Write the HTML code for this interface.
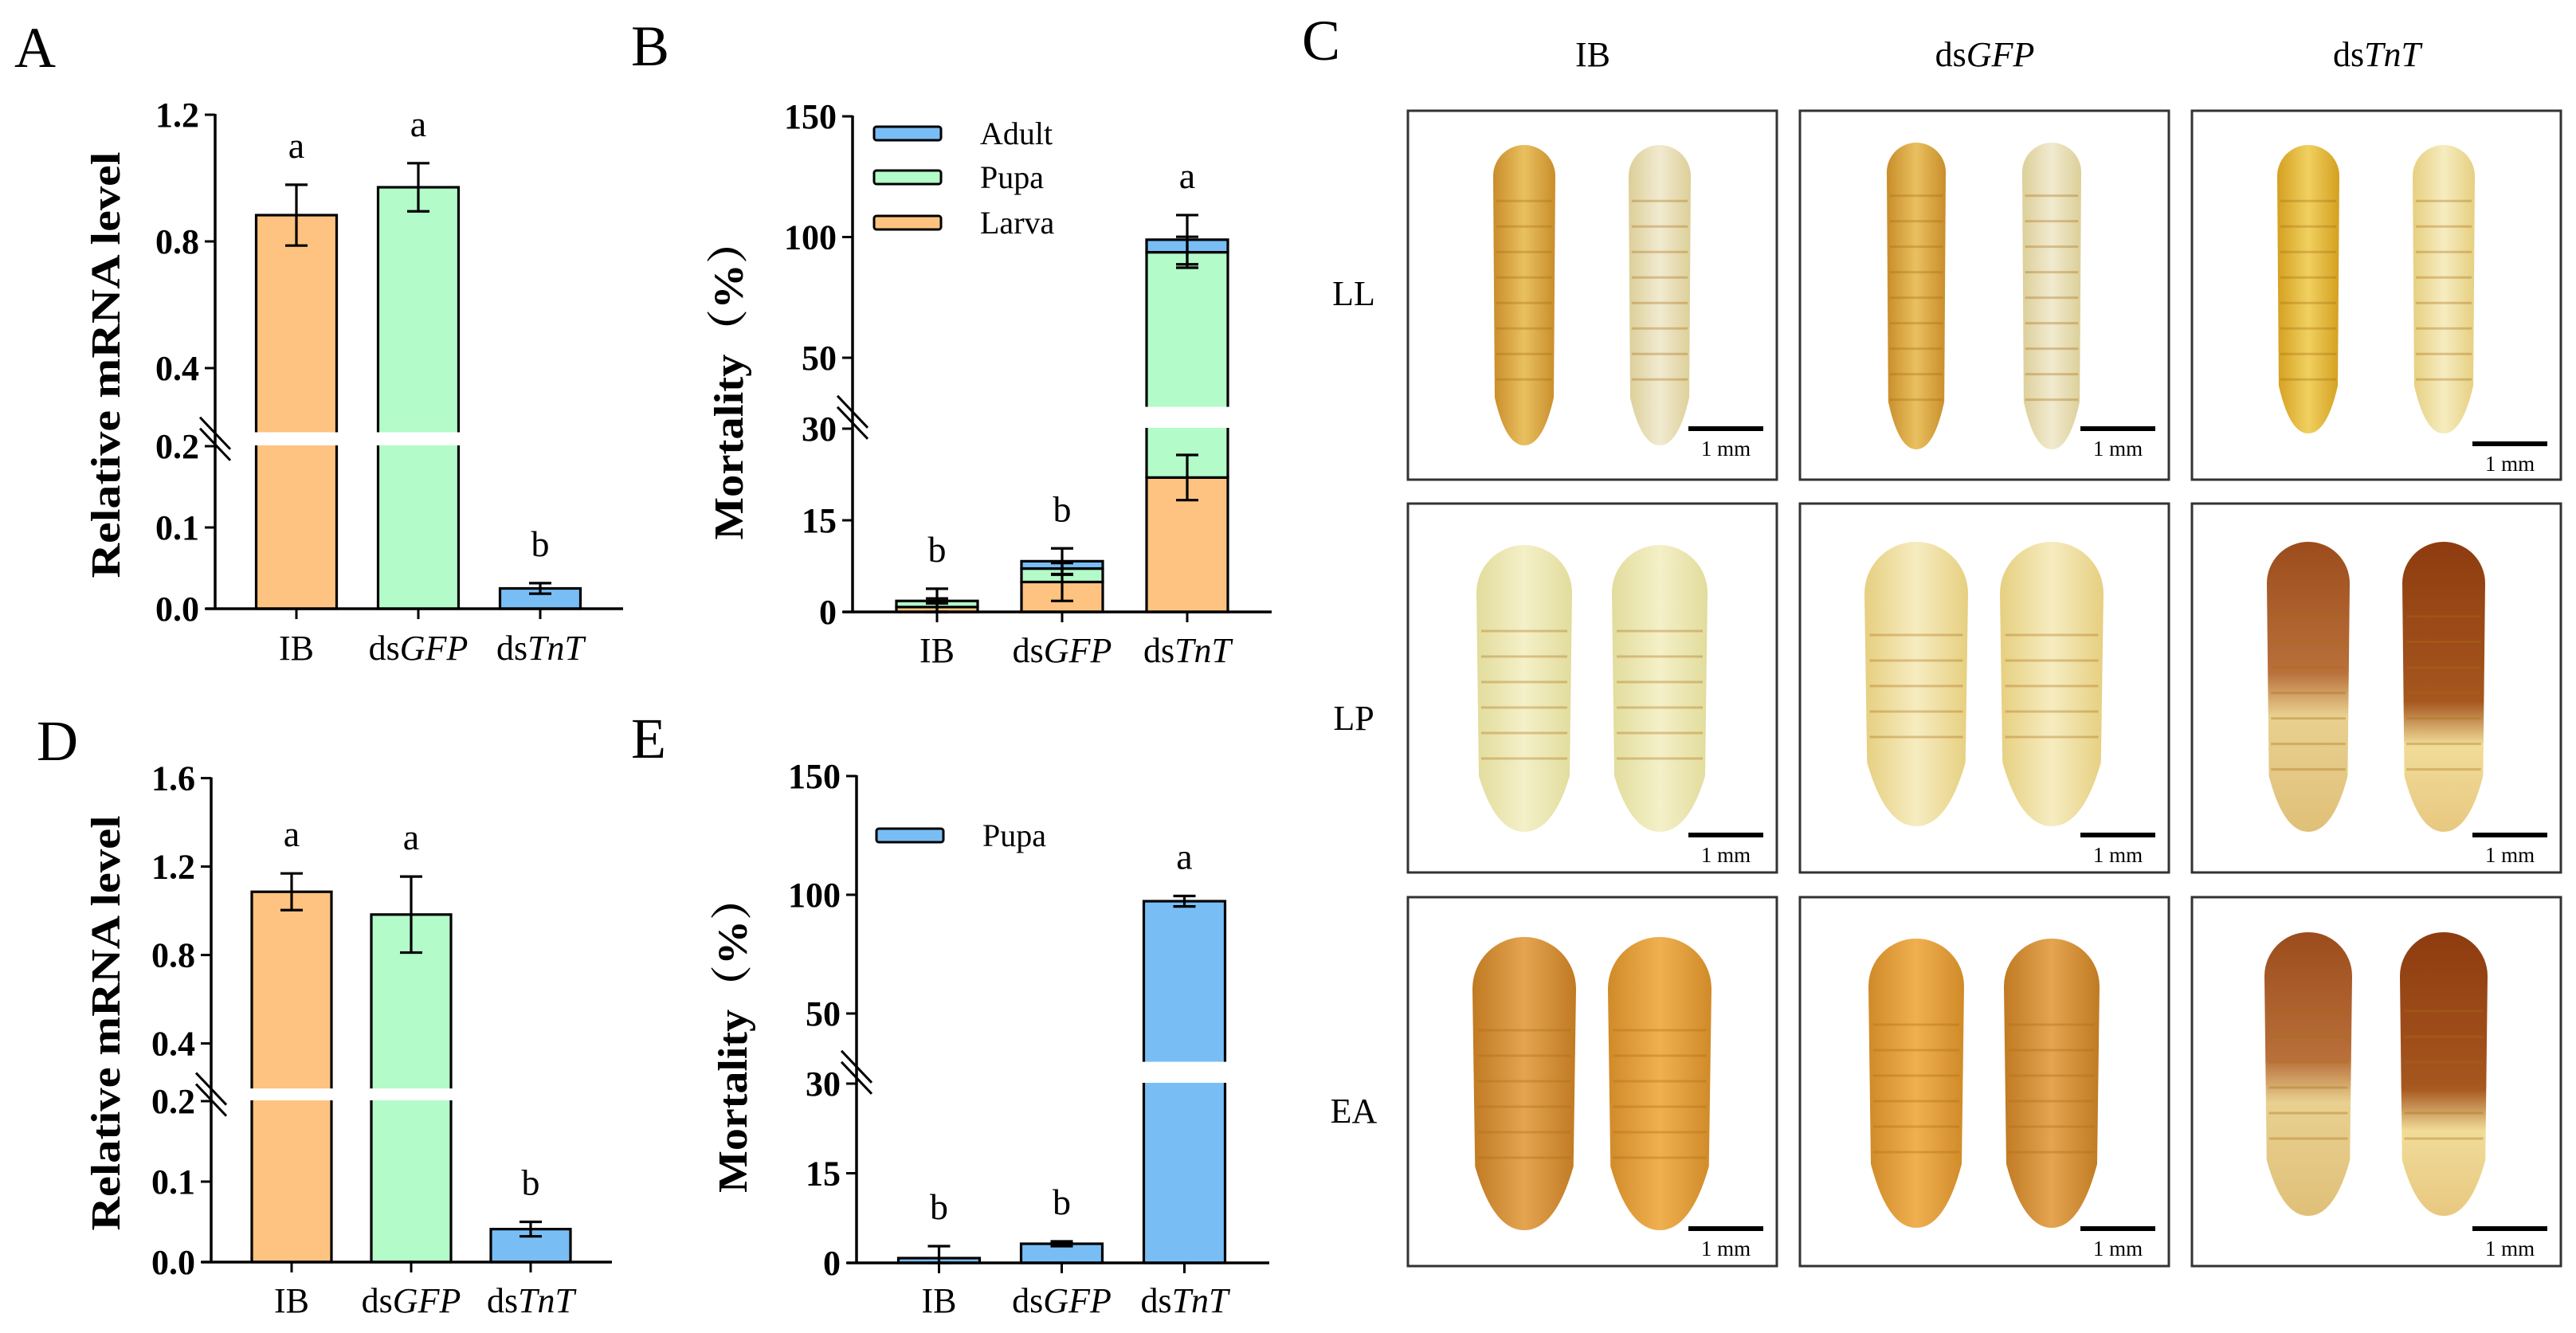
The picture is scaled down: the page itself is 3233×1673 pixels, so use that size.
<!DOCTYPE html>
<html><head><meta charset="utf-8">
<style>
html,body{margin:0;padding:0;background:#fff;}
svg{display:block;}
text{font-family:"Liberation Serif","Noto Serif CJK SC",serif;}
.tick{font-weight:bold;font-size:44px;}
.ttl{font-weight:bold;font-size:52px;}
.xl{font-size:44px;}
.sig{font-size:46px;}
.pl{font-size:72px;}
.hd{font-size:44px;}
.mm{font-size:27px;}
</style></head>
<body>
<svg id="fig" width="3233" height="1673" viewBox="0 0 3233 1673" xmlns="http://www.w3.org/2000/svg">
<defs>
<linearGradient id="gLarvaGold" x1="0" x2="1"><stop offset="0" stop-color="#c98d2a"/><stop offset="0.5" stop-color="#e9c060"/><stop offset="1" stop-color="#c98d2a"/></linearGradient>
<linearGradient id="gLarvaPale" x1="0" x2="1"><stop offset="0" stop-color="#dccf98"/><stop offset="0.5" stop-color="#f1ead0"/><stop offset="1" stop-color="#dccf98"/></linearGradient>
<linearGradient id="gLarvaYel" x1="0" x2="1"><stop offset="0" stop-color="#d4a020"/><stop offset="0.5" stop-color="#f0d060"/><stop offset="1" stop-color="#d4a020"/></linearGradient>
<linearGradient id="gPupaPale" x1="0" x2="1"><stop offset="0" stop-color="#e2dc9c"/><stop offset="0.5" stop-color="#f4f0c8"/><stop offset="1" stop-color="#e2dc9c"/></linearGradient>
<linearGradient id="gPupaWarm" x1="0" x2="1"><stop offset="0" stop-color="#e6cf80"/><stop offset="0.5" stop-color="#f6ecc0"/><stop offset="1" stop-color="#e6cf80"/></linearGradient>
<linearGradient id="gPupaDark" x1="0" x2="0" y1="0" y2="1"><stop offset="0" stop-color="#9c4c1c"/><stop offset="0.45" stop-color="#b9703a"/><stop offset="0.6" stop-color="#e8d090"/><stop offset="1" stop-color="#e0c078"/></linearGradient>
<linearGradient id="gPupaDark2" x1="0" x2="0" y1="0" y2="1"><stop offset="0" stop-color="#8e3c10"/><stop offset="0.55" stop-color="#a6561e"/><stop offset="0.7" stop-color="#f0dc98"/><stop offset="1" stop-color="#e8c880"/></linearGradient>
<linearGradient id="gBeetle" x1="0" x2="1"><stop offset="0" stop-color="#c07a22"/><stop offset="0.5" stop-color="#e4a450"/><stop offset="1" stop-color="#c07a22"/></linearGradient>
<linearGradient id="gBeetle2" x1="0" x2="1"><stop offset="0" stop-color="#d08a28"/><stop offset="0.5" stop-color="#f0b050"/><stop offset="1" stop-color="#d08a28"/></linearGradient>
</defs>
<g id="charts"></g>
<g id="photos"></g>
</svg>
<script>
// ---------- data ----------
const categories = ['IB', 'GFP', 'TnT'];
const valsA = [0.883, 0.971, 0.025];
const errA = [0.096, 0.076, 0.0065];
const sigA = ['a', 'a', 'b'];
const ticksAUpper = [0.4, 0.8, 1.2];
const ticksALower = [0.0, 0.1, 0.2];

const larvaB = [0.8, 4.9, 22.0];
const pupaB = [1.0, 2.2, 71.7];
const adultB = [0.0, 1.2, 5.2];
const larvaErrB = [0.8, 3.1, 3.7];
const pupaErrB = [2.0, 1.0, 6.4];
const adultErrB = [0.4, 2.1, 10.2];
const sigB = ['b', 'b', 'a'];
const ticksBUpper = [50, 100, 150];
const ticksBLower = [0, 15, 30];

const valsD = [1.086, 0.983, 0.041];
const errD = [0.083, 0.172, 0.009];
const sigD = ['a', 'a', 'b'];
const ticksDUpper = [0.4, 0.8, 1.2, 1.6];
const ticksDLower = [0.0, 0.1, 0.2];

const pupaE = [0.8, 3.2, 97.3];
const errE = [2.0, 0.4, 2.2];
const sigE = ['b', 'b', 'a'];
const ticksEUpper = [50, 100, 150];
const ticksELower = [0, 15, 30];

const legendB = ['Adult', 'Pupa', 'Larva'];
const legendE = ['Pupa'];

const ORANGE = '#fec380', GREEN = '#b3fbc8', BLUE = '#79bdf5';
const NS = 'http://www.w3.org/2000/svg';
const root = document.getElementById('charts');

function mk(tag, parent) { const e = document.createElementNS(NS, tag); parent.appendChild(e); return e; }
function setA(e, o) { for (const k in o) e.setAttribute(k, o[k]); return e; }

function makeAxes(cfg) {
  cfg.y = function (v) {
    if (v <= cfg.brk) return cfg.baseY - v * cfg.kL;
    return cfg.uy0 - (v - cfg.uv0) * cfg.kU;
  };
  cfg.x = function (i) { return cfg.x0 + (i + 0.5) * cfg.step; };
  return cfg;
}

function drawChart(cfg, name) {
  const g = mk('g', root);
  
  
  return g;
}

function drawAxis(g, cfg, upT, loT, fmt) {
  const ax = mk('line', g);
  setA(ax, {x1: cfg.axisX, x2: cfg.axisX, y1: cfg.y(upT[upT.length - 1]) - 1, y2: cfg.baseY + 1.5, stroke: '#000', 'stroke-width': 3.5});
  
  
  const xa = mk('line', g);
  setA(xa, {x1: cfg.axisX - 12, x2: cfg.endX, y1: cfg.baseY, y2: cfg.baseY, stroke: '#000', 'stroke-width': 3.5});
  
  
  const all = upT.concat(loT);
  all.forEach(function (v) {
    const yy = cfg.y(v);
    const t = mk('line', g);
    setA(t, {x1: cfg.axisX - 13, x2: cfg.axisX, y1: yy, y2: yy, stroke: '#000', 'stroke-width': 3});
    
    
    const lb = mk('text', g);
    setA(lb, {x: cfg.axisX - 20, y: yy + 15, 'text-anchor': 'end', class: 'tick'});
    lb.textContent = fmt(v);
    
    
  });
  const my = (cfg.y(cfg.brk) + cfg.uy0 - (cfg.brk - cfg.uv0) * cfg.kU) / 2;
  [-7, 7].forEach(function (o) {
    const s = mk('line', g);
    setA(s, {x1: cfg.axisX - 19, y1: my + o - 20, x2: cfg.axisX + 19, y2: my + o + 20, stroke: '#000', 'stroke-width': 3});
    
    
  });
  categories.forEach(function (c, i) {
    const cx = cfg.x(i);
    const t = mk('line', g);
    setA(t, {x1: cx, x2: cx, y1: cfg.baseY, y2: cfg.baseY + 13, stroke: '#000', 'stroke-width': 3});
    
    
    const lb = mk('text', g);
    setA(lb, {x: cx, y: cfg.labY, 'text-anchor': 'middle', class: 'xl'});
    
    
    if (c === 'IB') { lb.textContent = 'IB'; }
    else {
      const a = mk('tspan', lb); a.textContent = 'ds';
      const b = mk('tspan', lb); b.setAttribute('font-style', 'italic'); b.textContent = c;
    }
  });
}

function yTitle(g, x, cy, len, txt) {
  const t = mk('text', g);
  setA(t, {x: 0, y: 0, transform: 'translate(' + x + ',' + cy + ') rotate(-90)', 'text-anchor': 'middle', class: 'ttl', textLength: len, lengthAdjust: 'spacingAndGlyphs'});
  t.textContent = txt;
  
  
}

function seg(g, cfg, i, v0, v1, fill) {
  const r = mk('rect', g);
  const yt = cfg.y(v1), yb = cfg.y(v0);
  setA(r, {x: cfg.x(i) - cfg.bw / 2, y: yt, width: cfg.bw, height: Math.max(0, yb - yt), fill: fill, stroke: '#000', 'stroke-width': 3.2});
  
  
}

function gap(g, cfg, i) {
  const r = mk('rect', g);
  const yu = cfg.uy0 - (cfg.brk - cfg.uv0) * cfg.kU, yl = cfg.y(cfg.brk);
  setA(r, {x: cfg.x(i) - cfg.bw / 2 - 4, y: yu + 1, width: cfg.bw + 8, height: yl - yu - 2, fill: '#fff'});
  
  
}

function err(g, cfg, i, v, e) {
  const cx = cfg.x(i), y1 = cfg.y(v + e), y2 = cfg.y(Math.max(0, v - e));
  const p = mk('path', g);
  setA(p, {d: 'M' + cx + ',' + y1 + 'V' + y2 + 'M' + (cx - 14) + ',' + y1 + 'H' + (cx + 14) + 'M' + (cx - 14) + ',' + y2 + 'H' + (cx + 14), stroke: '#000', 'stroke-width': 3.2, fill: 'none'});
  
  
}

function sig(g, cfg, i, top, s) {
  const t = mk('text', g);
  setA(t, {x: cfg.x(i), y: cfg.y(top) - 34, 'text-anchor': 'middle', class: 'sig'});
  t.textContent = s;
  
  
}

function legend(g, names, fills, x, ys) {
  names.forEach(function (n, k) {
    const r = mk('rect', g);
    setA(r, {x: x, y: ys[k] - 8, width: 84, height: 17, rx: 3, fill: fills[k], stroke: '#000', 'stroke-width': 3});
    
    
    const t = mk('text', g);
    setA(t, {x: x + 133, y: ys[k] + 14, style: 'font-size:40px'});
    t.textContent = n;
    
    
  });
}

function panelLetter(x, y, s) {
  const t = mk('text', root);
  setA(t, {x: x, y: y, class: 'pl'});
  t.textContent = s;
  
  
}

const f1 = function (v) { return v.toFixed(1); };
const f0 = function (v) { return String(v); };

// ---- Panel A ----
const cA = makeAxes({axisX: 270, endX: 782, baseY: 764, brk: 0.2, kL: 1020, uv0: 0.4, uy0: 462, kU: 397.5, x0: 295.5, step: 153, bw: 101, labY: 828});
const gA = drawChart(cA, 'chart-a');
valsA.forEach(function (v, i) {
  const fills = [ORANGE, GREEN, BLUE];
  seg(gA, cA, i, 0, v, fills[i]);
  if (v > cA.brk) gap(gA, cA, i);
  err(gA, cA, i, v, errA[i]);
  sig(gA, cA, i, v + errA[i], sigA[i]);
});
drawAxis(gA, cA, ticksAUpper, ticksALower, f1);
yTitle(gA, 150, 458, 535, 'Relative mRNA level');
panelLetter(18, 84, 'A');

// ---- Panel B ----
const cB = makeAxes({axisX: 1070, endX: 1596, baseY: 768, brk: 30, kL: 115 / 15, uv0: 100, uy0: 297.5, kU: 151.5 / 50, x0: 1097.5, step: 157, bw: 102, labY: 831});
const gB = drawChart(cB, 'chart-b');
categories.forEach(function (c, i) {
  const l = larvaB[i], p = l + pupaB[i], a = p + adultB[i];
  seg(gB, cB, i, 0, l, ORANGE);
  seg(gB, cB, i, l, p, GREEN);
  if (adultB[i] > 0) seg(gB, cB, i, p, a, BLUE);
  if (a > cB.brk) gap(gB, cB, i);
  err(gB, cB, i, l, larvaErrB[i]);
  err(gB, cB, i, p, pupaErrB[i]);
  err(gB, cB, i, a, adultErrB[i]);
  sig(gB, cB, i, Math.max(l + larvaErrB[i], p + pupaErrB[i], a + adultErrB[i]), sigB[i]);
});
drawAxis(gB, cB, ticksBUpper, ticksBLower, f0);
yTitle(gB, 932, 476, 403, 'Mortality（%）');
legend(gB, legendB, [BLUE, GREEN, ORANGE], 1097, [167, 222, 279]);
panelLetter(792, 82, 'B');

// ---- Panel D ----
const cD = makeAxes({axisX: 265, endX: 768, baseY: 1584, brk: 0.2, kL: 1010, uv0: 0.4, uy0: 1309.6, kU: 277.5, x0: 291, step: 150, bw: 100, labY: 1647});
const gD = drawChart(cD, 'chart-d');
valsD.forEach(function (v, i) {
  const fills = [ORANGE, GREEN, BLUE];
  seg(gD, cD, i, 0, v, fills[i]);
  if (v > cD.brk) gap(gD, cD, i);
  err(gD, cD, i, v, errD[i]);
  sig(gD, cD, i, v + errD[i], sigD[i]);
});
drawAxis(gD, cD, ticksDUpper, ticksDLower, f1);
yTitle(gD, 150, 1284, 521, 'Relative mRNA level');
panelLetter(46, 954, 'D');

// ---- Panel E ----
const cE = makeAxes({axisX: 1075, endX: 1593, baseY: 1585, brk: 30, kL: 112.5 / 15, uv0: 100, uy0: 1123, kU: 149 / 50, x0: 1101.5, step: 154, bw: 102, labY: 1647});
const gE = drawChart(cE, 'chart-e');
pupaE.forEach(function (v, i) {
  seg(gE, cE, i, 0, v, BLUE);
  if (v > cE.brk) gap(gE, cE, i);
  err(gE, cE, i, v, errE[i]);
  sig(gE, cE, i, v + errE[i], sigE[i]);
});
drawAxis(gE, cE, ticksEUpper, ticksELower, f0);
yTitle(gE, 937, 1298, 398, 'Mortality（%）');
legend(gE, legendE, [BLUE], 1100, [1048]);
panelLetter(792, 951, 'E');

// ---- Panel C (photographs approximated) ----
const ph = document.getElementById('photos');
panelLetter(1634, 75, 'C');
const colX = [1767, 2259, 2751];
const rowY = [139, 632, 1126];
const heads = ['IB', 'GFP', 'TnT'];
const rows = ['LL', 'LP', 'EA'];
heads.forEach(function (h, c) {
  const t = mk('text', ph);
  setA(t, {x: colX[c] + 232, y: 83, 'text-anchor': 'middle', class: 'hd'});
  
  
  if (h === 'IB') t.textContent = 'IB';
  else { const a = mk('tspan', t); a.textContent = 'ds'; const b = mk('tspan', t); b.setAttribute('font-style', 'italic'); b.textContent = h; }
});
const rowLabY = [383, 916, 1409];
rows.forEach(function (r, k) {
  const t = mk('text', ph);
  setA(t, {x: 1699, y: rowLabY[k], 'text-anchor': 'middle', class: 'hd'});
  t.textContent = r;
  
  
});
function body(g, cx, top, bot, w, fill, tail) {
  const p = mk('path', g);
  const r = w / 2;
  setA(p, {d: 'M' + (cx - r) + ',' + (top + r) + ' A' + r + ',' + r + ' 0 0 1 ' + (cx + r) + ',' + (top + r) +
    ' L' + (cx + r * 0.95) + ',' + (bot - tail) + ' Q' + (cx + r * 0.6) + ',' + bot + ' ' + cx + ',' + bot +
    ' Q' + (cx - r * 0.6) + ',' + bot + ' ' + (cx - r * 0.95) + ',' + (bot - tail) + ' Z', fill: fill});
  
  
  for (let yy = top + w * 0.9; yy < bot - tail; yy += 32) {
    const s = mk('line', g);
    setA(s, {x1: cx - r * 0.9, x2: cx + r * 0.9, y1: yy, y2: yy, stroke: 'rgba(170,110,20,0.35)', 'stroke-width': 3});
    
    
  }
}
const spec = [
  [['url(#gLarvaGold)', 'url(#gLarvaPale)', 78, 43, 420, 60], ['url(#gPupaPale)', 'url(#gPupaPale)', 120, 52, 412, 70], ['url(#gBeetle)', 'url(#gBeetle2)', 130, 50, 418, 80]],
  [['url(#gLarvaGold)', 'url(#gLarvaPale)', 74, 40, 425, 60], ['url(#gPupaWarm)', 'url(#gPupaWarm)', 130, 48, 405, 80], ['url(#gBeetle2)', 'url(#gBeetle)', 120, 52, 415, 80]],
  [['url(#gLarvaYel)', 'url(#gPupaWarm)', 78, 43, 405, 60], ['url(#gPupaDark)', 'url(#gPupaDark2)', 104, 48, 412, 70], ['url(#gPupaDark)', 'url(#gPupaDark2)', 110, 44, 400, 70]]
];
colX.forEach(function (fx, c) {
  rowY.forEach(function (fy, r) {
    const g = mk('g', ph);
    
    
    const fr = mk('rect', g);
    setA(fr, {x: fx, y: fy, width: 463, height: 463, fill: '#fff', stroke: '#333', 'stroke-width': 3});
    
    
    const s = spec[c][r];
    body(g, fx + 146, fy + s[3], fy + s[4], s[2], s[0], s[5]);
    body(g, fx + 316, fy + s[3], fy + s[4], s[2], s[1], s[5]);
    const by = (r === 0 ? (c === 2 ? 557 - 139 : 538 - 139) : 416) + fy;
    const sb = mk('rect', g);
    setA(sb, {x: fx + 352, y: by - 3, width: 94, height: 6, fill: '#000'});
    
    
    const t = mk('text', g);
    setA(t, {x: fx + 399, y: by + 34, 'text-anchor': 'middle', class: 'mm'});
    t.textContent = '1 mm';
    
    
  });
});
</script>
</body></html>
